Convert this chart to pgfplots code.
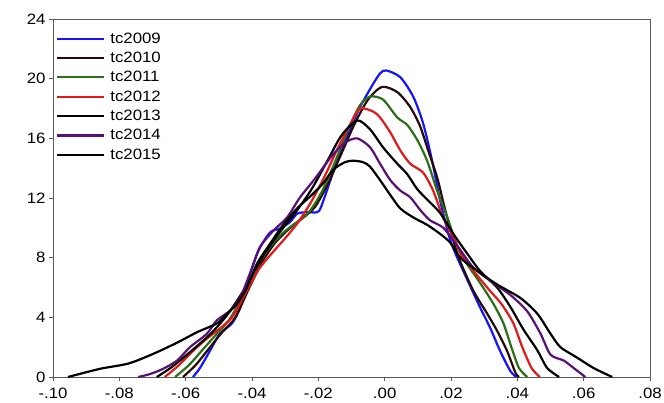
\documentclass[border=0pt]{standalone}
\usepackage{pgfplots}
\pgfplotsset{compat=1.18}
\usepackage{fontspec}
\setmainfont[FakeStretch=1.12]{Liberation Sans}
\usetikzlibrary{calc}
\definecolor{c09}{RGB}{20,20,255}
\definecolor{c10}{RGB}{40,10,10}
\definecolor{c11}{RGB}{45,110,25}
\definecolor{c12}{RGB}{225,25,25}
\definecolor{c13}{RGB}{0,0,0}
\definecolor{c14}{RGB}{90,15,120}
\definecolor{c15}{RGB}{0,0,0}
\begin{document}
\begin{tikzpicture}
\begin{axis}[
  scale only axis, width=597bp, height=358bp,
  xmin=-0.10, xmax=0.08, ymin=0, ymax=24,
  xtick={-0.10,-0.08,-0.06,-0.04,-0.02,0,0.02,0.04,0.06,0.08},
  xticklabels={-.10,-.08,-.06,-.04,-.02,.00,.02,.04,.06,.08},
  ytick={0,4,8,12,16,20,24},
  yticklabels={0,4,8,12,16,20,24},
  xtick pos=bottom, ytick pos=left, tick align=outside,
  major tick length=4bp,
  tick style={black!65, line width=0.7bp},
  axis line style={black!65, line width=0.9bp},
  ticklabel style={font=\fontsize{15bp}{17bp}\selectfont},
  xticklabel style={yshift=-3.5bp},
  legend style={at={(0.0,0.975)}, anchor=north west, draw=none, fill=none,
    font=\fontsize{15bp}{17bp}\selectfont, row sep=4.4bp, inner sep=3bp,
    nodes={inner sep=1.5bp},
    /tikz/every odd column/.append style={column sep=3.5bp}},
  legend cell align=left,
  legend image code/.code={\draw[#1, line width=2.2bp] (0bp,0bp) -- (47bp,0bp);},
  clip=true,
]
\pgfplotsset{every axis plot/.append style={line width=2.2bp, smooth, tension=0.45}}
\addplot[color=c09] coordinates {
(-0.0578,0) (-0.0557,0.6) (-0.0527,1.75) (-0.0497,2.9) (-0.046,3.6) (-0.0436,4.65) (-0.0412,6.5) (-0.038,8.5) (-0.0345,9.7) (-0.0315,9.95) (-0.0285,10.4) (-0.0264,10.95) (-0.0235,11.05) (-0.0204,11.05) (-0.019,11.5) (-0.0143,14.5) (-0.0083,17.7) (-0.0044,19.3) (-0.0014,20.35) (0.0005,20.55) (0.0047,20.1) (0.0086,18.8) (0.0116,17.0) (0.0143,14.5) (0.0167,11.85) (0.0192,9.6) (0.0213,8.3) (0.0264,5.8) (0.0288,4.65) (0.0318,3.3) (0.0348,1.75) (0.0379,0.4) (0.0397,0)
};
\addlegendentry{tc2009}
\addplot[color=c10] coordinates {
(-0.0608,0) (-0.057,0.8) (-0.053,1.9) (-0.049,3.0) (-0.045,4.0) (-0.041,5.9) (-0.037,7.7) (-0.033,9.0) (-0.029,9.9) (-0.025,10.6) (-0.021,11.4) (-0.017,13.0) (-0.013,15.0) (-0.009,17.0) (-0.005,18.6) (-0.0008,19.45) (0.0038,19.1) (0.0077,18.1) (0.0107,16.8) (0.0131,15.2) (0.0158,13.4) (0.0178,11.6) (0.0204,9.4) (0.0225,7.9) (0.0267,5.8) (0.0309,4.25) (0.0339,3.1) (0.0369,1.75) (0.0394,0.3) (0.0405,0)
};
\addlegendentry{tc2010}
\addplot[color=c11] coordinates {
(-0.0632,0) (-0.059,0.8) (-0.055,1.8) (-0.051,2.8) (-0.047,3.8) (-0.043,5.3) (-0.039,7.2) (-0.035,8.6) (-0.031,9.6) (-0.027,10.3) (-0.023,11.0) (-0.019,12.4) (-0.015,14.4) (-0.011,16.6) (-0.0075,18.2) (-0.0044,18.8) (-0.0005,18.6) (0.0038,17.4) (0.0068,16.9) (0.0098,15.9) (0.0128,14.5) (0.0158,12.5) (0.0189,10.7) (0.0228,8.3) (0.0288,6.3) (0.0328,4.9) (0.0358,3.6) (0.0382,2.0) (0.0405,0.6) (0.043,0)
};
\addlegendentry{tc2011}
\addplot[color=c12] coordinates {
(-0.0663,0) (-0.062,0.8) (-0.058,1.7) (-0.054,2.5) (-0.050,3.2) (-0.046,4.0) (-0.042,5.6) (-0.038,7.2) (-0.034,8.3) (-0.030,9.3) (-0.026,10.4) (-0.022,11.8) (-0.018,13.5) (-0.014,15.4) (-0.010,17.1) (-0.0074,18.0) (-0.0035,17.8) (-0.0014,17.4) (0.0017,16.4) (0.0047,15.2) (0.0077,14.3) (0.0116,13.7) (0.0146,12.5) (0.0176,10.7) (0.0207,9.4) (0.0237,8.0) (0.0309,6.0) (0.0352,4.9) (0.0388,3.6) (0.0415,2.0) (0.0443,0.6) (0.0468,0)
};
\addlegendentry{tc2012}
\addplot[color=c13] coordinates {
(-0.0687,0) (-0.064,0.7) (-0.058,1.8) (-0.052,3.0) (-0.047,4.3) (-0.042,6.0) (-0.037,8.0) (-0.032,9.6) (-0.027,11.0) (-0.022,12.6) (-0.017,14.6) (-0.013,16.2) (-0.0083,17.2) (-0.0044,16.6) (-0.0005,15.4) (0.0038,14.3) (0.0068,13.6) (0.0098,12.6) (0.0128,11.9) (0.0167,11.0) (0.0207,9.6) (0.0248,8.3) (0.0288,7.1) (0.0339,6.0) (0.0379,4.7) (0.0418,3.2) (0.046,1.8) (0.049,0.6) (0.0526,0)
};
\addlegendentry{tc2013}
\addplot[color=c14] coordinates {
(-0.0743,0) (-0.0707,0.2) (-0.0668,0.55) (-0.0626,1.1) (-0.0587,2.0) (-0.0536,2.9) (-0.0506,3.8) (-0.0466,4.45) (-0.0436,5.3) (-0.0406,6.95) (-0.0376,8.7) (-0.0336,9.8) (-0.0294,10.7) (-0.0255,12.05) (-0.021,13.3) (-0.016,14.8) (-0.012,15.7) (-0.0083,16.0) (-0.0044,15.4) (-0.0014,14.3) (0.0017,13.2) (0.0047,12.5) (0.0077,12.05) (0.0107,11.2) (0.0137,10.5) (0.0177,10.0) (0.0219,8.8) (0.0267,7.35) (0.0328,6.3) (0.0379,5.5) (0.043,4.4) (0.047,2.9) (0.050,1.5) (0.054,1.1) (0.057,0.6) (0.0605,0)
};
\addlegendentry{tc2014}
\addplot[color=c15] coordinates {
(-0.0955,0) (-0.0858,0.55) (-0.0773,0.9) (-0.0698,1.55) (-0.0626,2.3) (-0.0566,3.0) (-0.0505,3.6) (-0.0475,4.25) (-0.0445,4.9) (-0.0415,6.0) (-0.0385,7.6) (-0.0345,8.95) (-0.0306,10.2) (-0.0264,11.3) (-0.022,12.2) (-0.0185,13.0) (-0.0155,13.9) (-0.012,14.4) (-0.0095,14.5) (-0.0065,14.4) (-0.0044,14.1) (-0.0014,13.2) (0.0017,12.2) (0.0047,11.3) (0.0086,10.7) (0.0128,10.2) (0.0167,9.6) (0.0198,9.0) (0.0228,8.0) (0.028,7.1) (0.0339,6.2) (0.0409,5.3) (0.046,4.25) (0.05,2.9) (0.053,2.0) (0.058,1.3) (0.063,0.6) (0.0686,0)
};
\addlegendentry{tc2015}
\end{axis}
\pgfresetboundingbox
\path[use as bounding box] ($(current axis.south west)+(-53bp,-26bp)$) rectangle ($(current axis.north east)+(14bp,19bp)$);
\end{tikzpicture}
\end{document}
